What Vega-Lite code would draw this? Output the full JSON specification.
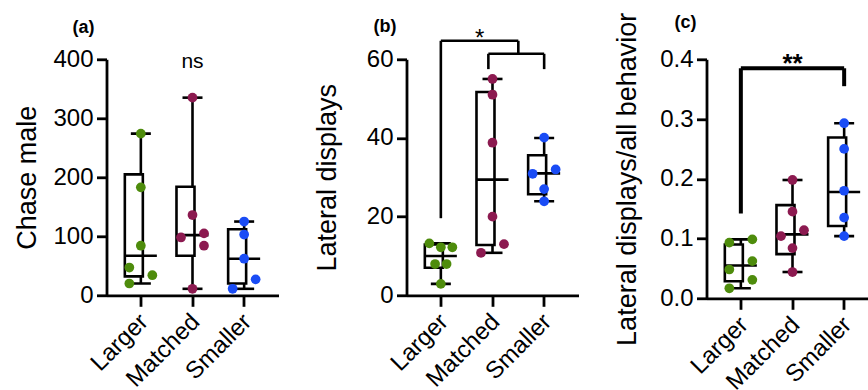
{
  "$schema": "https://vega.github.io/schema/vega-lite/v6.json",
  "autosize": {"type": "none"},
  "padding": {"left": 106.5, "top": 59.3, "right": 761.5, "bottom": 330.7},
  "bounds": "flush",
  "spacing": 128,
  "background": "white",
  "config": {
    "font": "Liberation Sans",
    "view": {"stroke": null},
    "axis": {"domainColor": "black", "domainWidth": 2.8, "tickColor": "black", "tickWidth": 2.8, "labelColor": "black", "labelFont": "Liberation Sans", "labelFontSize": 24, "titleFont": "Liberation Sans", "titleFontSize": 27, "titleFontWeight": "normal", "titleColor": "black", "grid": false, "labelOverlap": false},
    "axisY": {"tickSize": 10, "labelPadding": 3.5, "minExtent": 55, "maxExtent": 55, "titlePadding": 16.5, "titleBaseline": "alphabetic"},
    "axisX": {"tickSize": 11, "labelPadding": 3, "labelAngle": -45, "labelOffset": -5},
    "title": {"font": "Liberation Sans", "fontSize": 18, "fontWeight": "bold", "anchor": "start", "frame": "group", "color": "black", "baseline": "alphabetic", "offset": 0}
  },
  "datasets": {
    "boxA": [
      {"group": "Larger", "min": 20, "q1": 32, "median": 67, "q3": 205, "max": 274},
      {"group": "Matched", "min": 11, "q1": 67, "median": 102, "q3": 184, "max": 335},
      {"group": "Smaller", "min": 11, "q1": 20, "median": 62, "q3": 112, "max": 125}
    ],
    "ptsA": [
      {"group": "Larger", "j": 0, "value": 274},
      {"group": "Larger", "j": 0, "value": 183},
      {"group": "Larger", "j": 0, "value": 84},
      {"group": "Larger", "j": -1, "value": 47},
      {"group": "Larger", "j": 1, "value": 34},
      {"group": "Larger", "j": -1, "value": 20},
      {"group": "Matched", "j": 0, "value": 335},
      {"group": "Matched", "j": 0, "value": 136},
      {"group": "Matched", "j": 1, "value": 105},
      {"group": "Matched", "j": -1, "value": 98},
      {"group": "Matched", "j": 1, "value": 84},
      {"group": "Matched", "j": 0, "value": 11},
      {"group": "Smaller", "j": 0, "value": 125},
      {"group": "Smaller", "j": 0, "value": 103},
      {"group": "Smaller", "j": 0, "value": 62},
      {"group": "Smaller", "j": 1, "value": 27},
      {"group": "Smaller", "j": -1, "value": 11}
    ],
    "annA": [{"group": "Matched", "value": 385, "label": "ns"}],
    "boxB": [
      {"group": "Larger", "min": 2.9, "q1": 7.0, "median": 10.0, "q3": 12.9, "max": 13.2},
      {"group": "Matched", "min": 10.8, "q1": 12.8, "median": 29.4, "q3": 51.7, "max": 55},
      {"group": "Smaller", "min": 23.9, "q1": 25.7, "median": 31.0, "q3": 35.6, "max": 40}
    ],
    "ptsB": [
      {"group": "Larger", "j": -1, "value": 13.2},
      {"group": "Larger", "j": 0, "value": 12.2},
      {"group": "Larger", "j": 1, "value": 12.2},
      {"group": "Larger", "j": -0.5, "value": 7.95},
      {"group": "Larger", "j": 0.5, "value": 7.95},
      {"group": "Larger", "j": 0, "value": 2.9},
      {"group": "Matched", "j": 0, "value": 55},
      {"group": "Matched", "j": 0, "value": 51},
      {"group": "Matched", "j": 0, "value": 38.8},
      {"group": "Matched", "j": 0, "value": 20},
      {"group": "Matched", "j": 1, "value": 13},
      {"group": "Matched", "j": -1, "value": 10.8},
      {"group": "Smaller", "j": 0, "value": 40.1},
      {"group": "Smaller", "j": 1, "value": 32},
      {"group": "Smaller", "j": -1, "value": 30.9},
      {"group": "Smaller", "j": 0, "value": 27},
      {"group": "Smaller", "j": 0, "value": 23.9}
    ],
    "brB": [
      {"x": 0, "x2": 0, "y": 19.6, "y2": 64.7},
      {"x": 0, "x2": 1.5, "y": 64.7, "y2": 64.7},
      {"x": 1.5, "x2": 1.5, "y": 61.4, "y2": 64.7},
      {"x": 0.92, "x2": 2.0, "y": 61.4, "y2": 61.4},
      {"x": 0.92, "x2": 0.92, "y": 57.5, "y2": 61.4},
      {"x": 2.0, "x2": 2.0, "y": 57.5, "y2": 61.4}
    ],
    "annB": [{"x": 0.75, "value": 63.3, "label": "*"}],
    "boxC": [
      {"group": "Larger", "min": 0.0168, "q1": 0.0286, "median": 0.055, "q3": 0.090, "max": 0.0987},
      {"group": "Matched", "min": 0.044, "q1": 0.074, "median": 0.107, "q3": 0.156, "max": 0.198},
      {"group": "Smaller", "min": 0.104, "q1": 0.121, "median": 0.178, "q3": 0.269, "max": 0.293}
    ],
    "ptsC": [
      {"group": "Larger", "j": -1, "value": 0.0931},
      {"group": "Larger", "j": 1, "value": 0.0987},
      {"group": "Larger", "j": -1, "value": 0.0482},
      {"group": "Larger", "j": 1, "value": 0.0623},
      {"group": "Larger", "j": 1, "value": 0.0309},
      {"group": "Larger", "j": -1, "value": 0.0168},
      {"group": "Matched", "j": 0, "value": 0.198},
      {"group": "Matched", "j": 0, "value": 0.145},
      {"group": "Matched", "j": -1, "value": 0.104},
      {"group": "Matched", "j": 1, "value": 0.114},
      {"group": "Matched", "j": 0, "value": 0.084},
      {"group": "Matched", "j": 0, "value": 0.044},
      {"group": "Smaller", "j": 0, "value": 0.293},
      {"group": "Smaller", "j": 0, "value": 0.250},
      {"group": "Smaller", "j": 0, "value": 0.180},
      {"group": "Smaller", "j": 0, "value": 0.135},
      {"group": "Smaller", "j": 0, "value": 0.104}
    ],
    "brC": [
      {"x": 0, "x2": 0, "y": 0.142, "y2": 0.385},
      {"x": 0, "x2": 2, "y": 0.385, "y2": 0.385},
      {"x": 2, "x2": 2, "y": 0.355, "y2": 0.385}
    ],
    "annC": [{"x": 1, "value": 0.378, "label": "**"}]
  },
  "hconcat": [
    {
      "width": 172, "height": 236,
      "title": {"text": "(a)", "dx": -34, "dy": -6},
      "resolve": {"scale": {"x": "independent"}},
      "layer": [
        {
          "encoding": {
            "x": {"field": "group", "type": "nominal", "title": null, "sort": ["Larger", "Matched", "Smaller"], "scale": {"domain": ["Larger", "Matched", "Smaller"], "paddingInner": 0.38, "paddingOuter": 0.355}, "axis": {"labelAngle": -45, "labelOverlap": false}}
          },
          "layer": [
            {"data": {"name": "boxA"}, "mark": {"type": "rule", "color": "black", "strokeWidth": 2.6},
             "encoding": {"y": {"field": "min", "type": "quantitative", "title": "Chase male", "scale": {"domain": [0, 400], "nice": false}, "axis": {"values": [0, 100, 200, 300, 400]}}, "y2": {"field": "max"}}},
            {"data": {"name": "boxA"}, "mark": {"type": "tick", "orient": "horizontal", "size": 20, "thickness": 2.6, "color": "black", "opacity": 1},
             "encoding": {"y": {"field": "min", "type": "quantitative", "title": "Chase male"}}},
            {"data": {"name": "boxA"}, "mark": {"type": "tick", "orient": "horizontal", "size": 20, "thickness": 2.6, "color": "black", "opacity": 1},
             "encoding": {"y": {"field": "max", "type": "quantitative", "title": "Chase male"}}},
            {"data": {"name": "boxA"}, "mark": {"type": "bar", "orient": "vertical", "fill": "white", "stroke": "black", "strokeWidth": 2.6},
             "encoding": {"y": {"field": "q1", "type": "quantitative", "title": "Chase male"}, "y2": {"field": "q3"}}},
            {"data": {"name": "boxA"}, "mark": {"type": "tick", "orient": "horizontal", "size": 32, "thickness": 2.6, "color": "black", "opacity": 1},
             "encoding": {"y": {"field": "median", "type": "quantitative", "title": "Chase male"}}},
            {"data": {"name": "ptsA"}, "mark": {"type": "circle", "size": 95, "opacity": 1},
             "encoding": {"y": {"field": "value", "type": "quantitative", "title": "Chase male"}, "xOffset": {"field": "j", "type": "quantitative", "scale": {"domain": [-1, 1], "range": [4.5, 27.5]}},
               "color": {"field": "group", "type": "nominal", "scale": {"domain": ["Larger", "Matched", "Smaller"], "range": ["#4e8c0c", "#8c1a50", "#1a4cf5"]}, "legend": null}}},
            {"data": {"name": "annA"}, "mark": {"type": "text", "fontSize": 21, "baseline": "alphabetic", "align": "center", "color": "black"},
             "encoding": {"y": {"field": "value", "type": "quantitative", "title": "Chase male"}, "text": {"field": "label"}}}
          ]
        }
      ]
    },
    {
      "width": 172, "height": 236,
      "title": {"text": "(b)", "dx": -33, "dy": 13},
      "resolve": {"scale": {"x": "independent"}},
      "layer": [
        {
          "encoding": {
            "x": {"field": "group", "type": "nominal", "title": null, "sort": ["Larger", "Matched", "Smaller"], "scale": {"domain": ["Larger", "Matched", "Smaller"], "paddingInner": 0.38, "paddingOuter": 0.355}, "axis": {"labelAngle": -45, "labelOverlap": false}}
          },
          "layer": [
            {"data": {"name": "boxB"}, "mark": {"type": "rule", "color": "black", "strokeWidth": 2.6},
             "encoding": {"y": {"field": "min", "type": "quantitative", "title": "Lateral displays", "scale": {"domain": [0, 60], "nice": false}, "axis": {"values": [0, 20, 40, 60]}}, "y2": {"field": "max"}}},
            {"data": {"name": "boxB"}, "mark": {"type": "tick", "orient": "horizontal", "size": 20, "thickness": 2.6, "color": "black", "opacity": 1},
             "encoding": {"y": {"field": "min", "type": "quantitative", "title": "Lateral displays"}}},
            {"data": {"name": "boxB"}, "mark": {"type": "tick", "orient": "horizontal", "size": 20, "thickness": 2.6, "color": "black", "opacity": 1},
             "encoding": {"y": {"field": "max", "type": "quantitative", "title": "Lateral displays"}}},
            {"data": {"name": "boxB"}, "mark": {"type": "bar", "orient": "vertical", "fill": "white", "stroke": "black", "strokeWidth": 2.6},
             "encoding": {"y": {"field": "q1", "type": "quantitative", "title": "Lateral displays"}, "y2": {"field": "q3"}}},
            {"data": {"name": "boxB"}, "mark": {"type": "tick", "orient": "horizontal", "size": 32, "thickness": 2.6, "color": "black", "opacity": 1},
             "encoding": {"y": {"field": "median", "type": "quantitative", "title": "Lateral displays"}}},
            {"data": {"name": "ptsB"}, "mark": {"type": "circle", "size": 95, "opacity": 1},
             "encoding": {"y": {"field": "value", "type": "quantitative", "title": "Lateral displays"}, "xOffset": {"field": "j", "type": "quantitative", "scale": {"domain": [-1, 1], "range": [4.5, 27.5]}},
               "color": {"field": "group", "type": "nominal", "scale": {"domain": ["Larger", "Matched", "Smaller"], "range": ["#4e8c0c", "#8c1a50", "#1a4cf5"]}, "legend": null}}}
          ]
        },
        {
          "encoding": {
            "x": {"field": "x", "type": "quantitative", "scale": {"domain": [-0.665, 2.665], "nice": false, "zero": false}, "axis": null}
          },
          "layer": [
            {"data": {"name": "brB"}, "mark": {"type": "rule", "color": "black", "strokeWidth": 2.6},
             "encoding": {"x2": {"field": "x2"}, "y": {"field": "y", "type": "quantitative", "title": "Lateral displays"}, "y2": {"field": "y2"}}},
            {"data": {"name": "annB"}, "mark": {"type": "text", "fontSize": 24, "baseline": "alphabetic", "align": "center", "color": "black"},
             "encoding": {"y": {"field": "value", "type": "quantitative", "title": "Lateral displays"}, "text": {"field": "label"}}}
          ]
        }
      ]
    },
    {
      "width": 172, "height": 239,
      "title": {"text": "(c)", "dx": -32, "dy": 24},
      "resolve": {"scale": {"x": "independent"}},
      "layer": [
        {
          "encoding": {
            "x": {"field": "group", "type": "nominal", "title": null, "sort": ["Larger", "Matched", "Smaller"], "scale": {"domain": ["Larger", "Matched", "Smaller"], "paddingInner": 0.38, "paddingOuter": 0.355}, "axis": {"labelAngle": -45, "labelOverlap": false}}
          },
          "layer": [
            {"data": {"name": "boxC"}, "mark": {"type": "rule", "color": "black", "strokeWidth": 2.6},
             "encoding": {"y": {"field": "min", "type": "quantitative", "title": "Lateral displays/all behavior", "scale": {"domain": [0, 0.4], "nice": false}, "axis": {"values": [0, 0.1, 0.2, 0.3, 0.4], "format": ".1f"}}, "y2": {"field": "max"}}},
            {"data": {"name": "boxC"}, "mark": {"type": "tick", "orient": "horizontal", "size": 20, "thickness": 2.6, "color": "black", "opacity": 1},
             "encoding": {"y": {"field": "min", "type": "quantitative", "title": "Lateral displays/all behavior"}}},
            {"data": {"name": "boxC"}, "mark": {"type": "tick", "orient": "horizontal", "size": 20, "thickness": 2.6, "color": "black", "opacity": 1},
             "encoding": {"y": {"field": "max", "type": "quantitative", "title": "Lateral displays/all behavior"}}},
            {"data": {"name": "boxC"}, "mark": {"type": "bar", "orient": "vertical", "fill": "white", "stroke": "black", "strokeWidth": 2.6},
             "encoding": {"y": {"field": "q1", "type": "quantitative", "title": "Lateral displays/all behavior"}, "y2": {"field": "q3"}}},
            {"data": {"name": "boxC"}, "mark": {"type": "tick", "orient": "horizontal", "size": 32, "thickness": 2.6, "color": "black", "opacity": 1},
             "encoding": {"y": {"field": "median", "type": "quantitative", "title": "Lateral displays/all behavior"}}},
            {"data": {"name": "ptsC"}, "mark": {"type": "circle", "size": 95, "opacity": 1},
             "encoding": {"y": {"field": "value", "type": "quantitative", "title": "Lateral displays/all behavior"}, "xOffset": {"field": "j", "type": "quantitative", "scale": {"domain": [-1, 1], "range": [4.5, 27.5]}},
               "color": {"field": "group", "type": "nominal", "scale": {"domain": ["Larger", "Matched", "Smaller"], "range": ["#4e8c0c", "#8c1a50", "#1a4cf5"]}, "legend": null}}}
          ]
        },
        {
          "encoding": {
            "x": {"field": "x", "type": "quantitative", "scale": {"domain": [-0.665, 2.665], "nice": false, "zero": false}, "axis": null}
          },
          "layer": [
            {"data": {"name": "brC"}, "mark": {"type": "rule", "color": "black", "strokeWidth": 4},
             "encoding": {"x2": {"field": "x2"}, "y": {"field": "y", "type": "quantitative", "title": "Lateral displays/all behavior"}, "y2": {"field": "y2"}}},
            {"data": {"name": "annC"}, "mark": {"type": "text", "fontSize": 26, "fontWeight": "bold", "baseline": "alphabetic", "align": "center", "color": "black"},
             "encoding": {"y": {"field": "value", "type": "quantitative", "title": "Lateral displays/all behavior"}, "text": {"field": "label"}}}
          ]
        }
      ]
    }
  ]
}
